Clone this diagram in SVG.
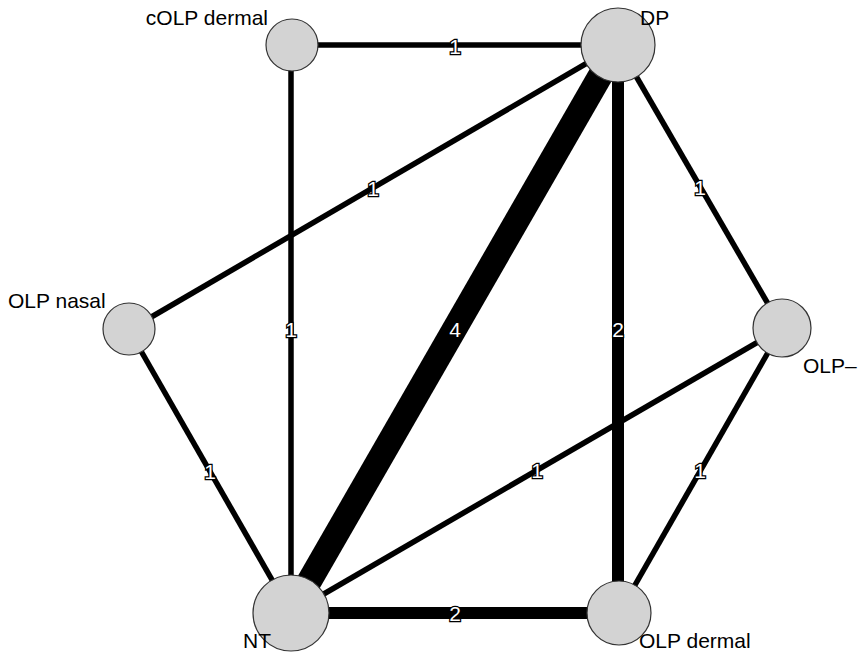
<svg xmlns="http://www.w3.org/2000/svg" width="858" height="657" viewBox="0 0 858 657">
<style>
.e{stroke:#000;stroke-linecap:butt;fill:none}
.n{fill:#d3d3d3;stroke:#333;stroke-width:1.2}
.t{font-family:"Liberation Sans",Arial,sans-serif;font-size:21px;fill:#000}
.el{font-family:"Liberation Sans",Arial,sans-serif;font-size:21px;fill:#fff;stroke:#000;stroke-width:2.5;paint-order:stroke;text-anchor:middle;dominant-baseline:central}
</style>
<rect width="858" height="657" fill="#fff"/>
<g id="edges">
<line class="e" x1="292" y1="45" x2="618" y2="45" stroke-width="5.5"/>
<line class="e" x1="291" y1="45" x2="291" y2="613" stroke-width="5.5"/>
<line class="e" x1="618" y1="45" x2="129" y2="330" stroke-width="5.5"/>
<line class="e" x1="618" y1="45" x2="291" y2="613" stroke-width="25"/>
<line class="e" x1="618" y1="45" x2="618" y2="613" stroke-width="12"/>
<line class="e" x1="618" y1="45" x2="782" y2="328" stroke-width="5.5"/>
<line class="e" x1="129" y1="330" x2="291" y2="613" stroke-width="5.5"/>
<line class="e" x1="782" y1="328" x2="291" y2="613" stroke-width="5.5"/>
<line class="e" x1="782" y1="328" x2="619" y2="613" stroke-width="5.5"/>
<line class="e" x1="291" y1="613" x2="619" y2="613" stroke-width="12"/>
<text class="el" x="455" y="46">1</text>
<text class="el" x="291" y="329">1</text>
<text class="el" x="373" y="188">1</text>
<text class="el" x="455" y="329">4</text>
<text class="el" x="618" y="329">2</text>
<text class="el" x="700" y="187">1</text>
<text class="el" x="210" y="471">1</text>
<text class="el" x="537" y="470">1</text>
<text class="el" x="700" y="470">1</text>
<text class="el" x="455" y="613">2</text>
</g>
<g id="node-cOLP-dermal"><circle class="n" cx="292" cy="45" r="26"/><text class="t" x="268" y="25" text-anchor="end">cOLP dermal</text></g>
<g id="node-DP"><circle class="n" cx="618" cy="45" r="37"/><text class="t" x="640" y="25">DP</text></g>
<g id="node-OLP-nasal"><circle class="n" cx="129" cy="329" r="26"/><text class="t" x="8" y="308">OLP nasal</text></g>
<g id="node-OLP-minus"><circle class="n" cx="782" cy="328" r="29"/><text class="t" x="803" y="373">OLP–</text></g>
<g id="node-NT"><circle class="n" cx="291" cy="613" r="38"/><text class="t" x="243" y="648">NT</text></g>
<g id="node-OLP-dermal"><circle class="n" cx="619" cy="613" r="32"/><text class="t" x="639" y="648">OLP dermal</text></g>
</svg>
